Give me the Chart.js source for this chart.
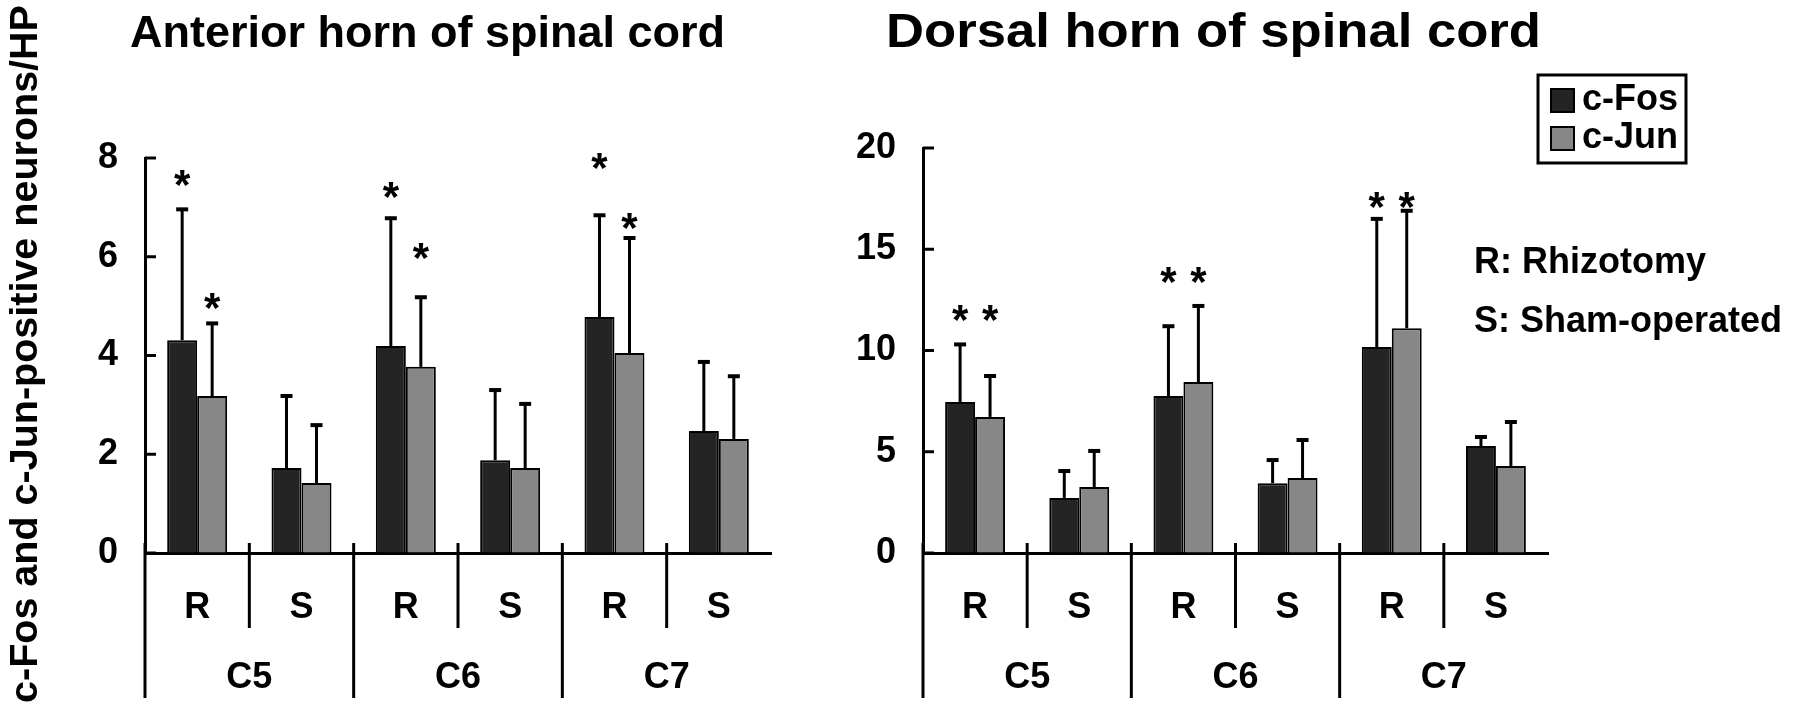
<!DOCTYPE html>
<html>
<head>
<meta charset="utf-8">
<script src="https://cdn.jsdelivr.net/npm/chart.js@4.4.1/dist/chart.umd.min.js"></script>
<style>
  html, body { margin: 0; padding: 0; background: #fff; }
  #wrap { position: relative; width: 1795px; height: 715px; overflow: hidden; }
  canvas { position: absolute; top: 0; }
</style>
</head>
<body>
<div id="wrap">
  <canvas id="ant" width="800" height="715" style="left:0"></canvas>
  <canvas id="dor" width="995" height="715" style="left:800px"></canvas>
</div>
<script>
// categories: R = rhizotomy, S = sham, grouped by segment
const categories = ['R', 'S', 'R', 'S', 'R', 'S'];
const segments = ['C5', 'C6', 'C7'];

// anterior horn (mean, SD, asterisk level)
const antFos = [4.31, 1.72, 4.19, 1.88, 4.78, 2.47];
const antFosSD = [2.65, 1.46, 2.59, 1.42, 2.06, 1.40];
const antJun = [3.18, 1.42, 3.77, 1.72, 4.05, 2.31];
const antJunSD = [1.47, 1.17, 1.41, 1.30, 2.33, 1.27];
const antFosStar = [7.65, null, 7.41, null, 7.99, null];
const antJunStar = [5.16, null, 6.17, null, 6.78, null];
const antTicks = [0, 2, 4, 6, 8];

// dorsal horn
const dorFos = [7.46, 2.72, 7.75, 3.45, 10.17, 5.28];
const dorFosSD = [2.84, 1.33, 3.45, 1.14, 6.33, 0.45];
const dorJun = [6.72, 3.26, 8.44, 3.70, 11.1, 4.30];
const dorJunSD = [2.02, 1.78, 3.76, 1.88, 5.8, 2.17];
const dorFosStar = [12.0, null, 13.9, null, 17.6, null];
const dorJunStar = [12.0, null, 13.9, null, 17.6, null];
const dorTicks = [0, 5, 10, 15, 20];

const FONT = "'Liberation Sans', Arial, Helvetica, sans-serif";
Chart.defaults.font.family = FONT;
Chart.defaults.color = '#000';

const extras = {
  id: 'extras',
  afterDraw(chart, args, o) {
    const ctx = chart.ctx, x = chart.scales.x, y = chart.scales.y, a = chart.chartArea;
    ctx.save();
    ctx.strokeStyle = '#000';
    ctx.fillStyle = '#000';
    ctx.lineCap = 'butt';

    // error bars + asterisks
    chart.data.datasets.forEach((ds, di) => {
      const meta = chart.getDatasetMeta(di);
      meta.data.forEach((bar, i) => {
        const top = y.getPixelForValue(ds.data[i] + ds.sd[i]);
        ctx.lineWidth = 3;
        ctx.beginPath(); ctx.moveTo(bar.x, bar.y); ctx.lineTo(bar.x, top); ctx.stroke();
        ctx.lineWidth = 4;
        ctx.beginPath(); ctx.moveTo(bar.x - 6, top); ctx.lineTo(bar.x + 6, top); ctx.stroke();
        if (ds.stars[i] != null) {
          ctx.font = 'bold 42px ' + FONT;
          ctx.textAlign = 'center';
          ctx.textBaseline = 'alphabetic';
          ctx.fillText('*', bar.x, y.getPixelForValue(ds.stars[i]) + 24);
        }
      });
    });

    // inward tick marks
    ctx.lineWidth = 3;
    y.ticks.forEach(t => {
      const py = y.getPixelForValue(t.value);
      ctx.beginPath(); ctx.moveTo(a.left, py); ctx.lineTo(a.left + 11, py); ctx.stroke();
    });

    // dividers under the axis
    for (let i = 0; i < categories.length; i++) {
      const bx = i === 0 ? a.left : (x.getPixelForValue(i - 1) + x.getPixelForValue(i)) / 2;
      const long = i % 2 === 0;
      ctx.beginPath();
      ctx.moveTo(bx, a.bottom - 10);
      ctx.lineTo(bx, long ? 698 : 628);
      ctx.stroke();
    }

    // R / S labels and segment labels
    ctx.font = 'bold 36px ' + FONT;
    ctx.textAlign = 'center';
    ctx.textBaseline = 'middle';
    chart.data.labels.forEach((lab, i) => {
      ctx.fillText(lab, x.getPixelForValue(i), 608);
    });
    segments.forEach((s, g) => {
      const cx = (x.getPixelForValue(2 * g) + x.getPixelForValue(2 * g + 1)) / 2;
      ctx.fillText(s, cx, 678);
    });

    // title
    ctx.save();
    ctx.font = 'bold ' + o.titleSize + 'px ' + FONT;
    ctx.textAlign = 'left';
    ctx.textBaseline = 'alphabetic';
    const tw = ctx.measureText(o.title).width;
    ctx.translate(o.titleX, 47);
    if (o.titleW) ctx.scale(o.titleW / tw, 1);
    ctx.fillText(o.title, 0, 0);
    ctx.restore();

    if (o.yTitle) {
      ctx.save();
      ctx.translate(26, 354);
      ctx.rotate(-Math.PI / 2);
      ctx.font = 'bold 39.5px ' + FONT;
      ctx.textAlign = 'center';
      ctx.textBaseline = 'middle';
      ctx.fillText(o.yTitle, 0, 0);
      ctx.restore();
    }

    if (o.legend) {
      const L = o.legend;
      ctx.lineWidth = 3;
      ctx.strokeRect(L.x, L.y, L.w, L.h);
      ctx.font = 'bold 36px ' + FONT;
      ctx.textAlign = 'left';
      ctx.textBaseline = 'middle';
      chart.data.datasets.forEach((ds, di) => {
        const cy = L.y + 25 + di * 38;
        ctx.fillStyle = ds.backgroundColor;
        ctx.fillRect(L.x + 13, cy - 11, 23, 23);
        ctx.lineWidth = 2;
        ctx.strokeRect(L.x + 13, cy - 11, 23, 23);
        ctx.fillStyle = '#000';
        ctx.fillText(ds.label, L.x + 44, cy);
      });
      o.notes.forEach((n, k) => ctx.fillText(n, o.notesX, 263 + k * 59));
    }
    ctx.restore();
  }
};

function makeChart(id, fos, fosSD, fosStar, jun, junSD, junStar, ticks, lay, ext) {
  return new Chart(document.getElementById(id), {
    type: 'bar',
    data: {
      labels: categories,
      datasets: [
        { label: 'c-Fos', data: fos, sd: fosSD, stars: fosStar,
          backgroundColor: '#242424', borderColor: '#000', borderWidth: 2 },
        { label: 'c-Jun', data: jun, sd: junSD, stars: junStar,
          backgroundColor: '#878787', borderColor: '#000', borderWidth: 2 }
      ]
    },
    options: {
      responsive: false,
      animation: false,
      devicePixelRatio: 1,
      layout: { padding: lay.padding },
      datasets: { bar: { categoryPercentage: 0.575, barPercentage: 1 } },
      plugins: { legend: { display: false }, tooltip: { enabled: false }, extras: ext },
      scales: {
        x: {
          afterFit: s => { s.height = 0; },
          grid: { display: true, drawOnChartArea: false, drawTicks: false },
          border: { display: true, color: '#000', width: 3 },
          ticks: { display: false }
        },
        y: {
          min: ticks[0], max: ticks[ticks.length - 1],
          afterFit: s => { s.width = lay.yWidth; },
          afterBuildTicks: s => { s.ticks = ticks.map(v => ({ value: v })); },
          grid: { display: true, drawOnChartArea: false, drawTicks: false },
          border: { display: true, color: '#000', width: 3 },
          ticks: { font: { size: 36, weight: 'bold' }, padding: 27, color: '#000' }
        }
      }
    },
    plugins: [extras]
  });
}

makeChart('ant', antFos, antFosSD, antFosStar, antJun, antJunSD, antJunStar, antTicks,
  { padding: { top: 158, right: 29, bottom: 162, left: 0 }, yWidth: 145 },
  { title: 'Anterior horn of spinal cord', titleX: 130, titleSize: 45,
    yTitle: 'c-Fos and c-Jun-positive neurons/HP' });

makeChart('dor', dorFos, dorFosSD, dorFosStar, dorJun, dorJunSD, dorJunStar, dorTicks,
  { padding: { top: 148, right: 247, bottom: 162, left: 0 }, yWidth: 123 },
  { title: 'Dorsal horn of spinal cord', titleX: 86, titleSize: 49, titleW: 655,
    legend: { x: 738, y: 75, w: 148, h: 88 },
    notes: ['R: Rhizotomy', 'S: Sham-operated'], notesX: 674 });
</script>
</body>
</html>
